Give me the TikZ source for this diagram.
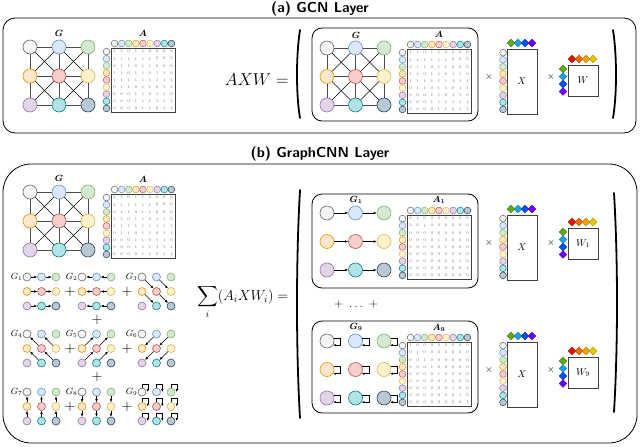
\documentclass[tikz,border=0pt]{standalone}
\usepackage{amsmath,bm}
\usetikzlibrary{shapes.geometric,arrows.meta,calc}
\definecolor{f1}{HTML}{F5F5F5}\definecolor{d1}{HTML}{666666}
\definecolor{f2}{HTML}{DAE8FC}\definecolor{d2}{HTML}{6C8EBF}
\definecolor{f3}{HTML}{D5E8D4}\definecolor{d3}{HTML}{82B366}
\definecolor{f4}{HTML}{FFE6CC}\definecolor{d4}{HTML}{D79B00}
\definecolor{f5}{HTML}{F8CECC}\definecolor{d5}{HTML}{B85450}
\definecolor{f6}{HTML}{FFF2CC}\definecolor{d6}{HTML}{D6B656}
\definecolor{f7}{HTML}{E1D5E7}\definecolor{d7}{HTML}{9673A6}
\definecolor{f8}{HTML}{B0E3E6}\definecolor{d8}{HTML}{0E8088}
\definecolor{f9}{HTML}{BAC8D3}\definecolor{d9}{HTML}{23445D}
\definecolor{x1}{HTML}{60A917}\definecolor{x2}{HTML}{1BA1E2}
\definecolor{x3}{HTML}{0050EF}\definecolor{x4}{HTML}{6A00FF}
\definecolor{w1}{HTML}{E51400}\definecolor{w2}{HTML}{FA6800}
\definecolor{w3}{HTML}{F0A30A}\definecolor{w4}{HTML}{E3C800}
\tikzset{
 gn/.style={circle, inner sep=0pt, minimum size=#1, line width=0.6pt},
 gridedge/.style={draw=black!70, line width=0.6pt},
 diagedge/.style={draw=black, line width=0.6pt},
 arr/.style={-{Latex[length=3pt,width=2.5pt]}, line width=0.5pt},
 dm/.style={diamond, inner sep=0pt, minimum size=8pt, draw=#1!70!black, fill=#1, line width=0.3pt},
 outerbox/.style={draw, line width=0.8pt},
 innerbox/.style={draw, line width=0.8pt, rounded corners=10pt},
 ent/.style={font=\fontsize{4}{4}\selectfont, text=black!55, inner sep=0pt},
 matbox/.style={draw=black!75, line width=0.8pt},
 lbl/.style={font=\small, inner sep=0pt},
 paren/.style={line width=1.8pt, line cap=round},
 ttl/.style={font=\sffamily\bfseries\Large, inner sep=0pt},
}
\newcommand\mkgraph[5]{%
 \foreach \i in {1,...,9}{%
  \pgfmathtruncatemacro\rr{(\i-1)/3}\pgfmathtruncatemacro\cc{mod(\i-1,3)}%
  \node[gn=#5, fill=f\i, draw=d\i] (#1\i) at ({#2+\cc*#4},{#3+\rr*#4}) {};}}
\newcommand\fulledges[1]{%
 \foreach \a/\b in {1/2,2/3,4/5,5/6,7/8,8/9,1/4,4/7,2/5,5/8,3/6,6/9} \draw[gridedge] (#1\a)--(#1\b);
 \foreach \a/\b in {1/5,2/4,2/6,3/5,4/8,5/7,5/9,6/8} \draw[diagedge] (#1\a)--(#1\b);}
\newcommand\mkmat[4]{%
 \draw[matbox] (#2,#3) rectangle ++(64,64);
 \foreach \j in {1,...,9}{\node[gn=6.8pt, fill=f\j, draw=d\j, line width=0.5pt] (#1t\j) at ({#2+3.6+7.1*(\j-1)},{#3-4.5}) {};}
 \foreach \j in {1,...,9}{\node[gn=6.8pt, fill=f\j, draw=d\j, line width=0.5pt] (#1l\j) at ({#2-4.5},{#3+3.6+7.1*(\j-1)}) {};}
 \foreach \rw [count=\i] in #4 {\foreach \v [count=\j] in \rw {\node[ent] (#1e\i-\j) at ({#2+3.6+7.1*(\j-1)},{#3+3.6+7.1*(\i-1)}) {\v};}}}
\newcommand\xmat[3]{%
 \draw[matbox] (#2,#3) rectangle ++(30,65);
 \node (#1lab) at ({#2+15},{#3+32}) {$X$};
 \foreach \j in {1,...,9}{\node[gn=6.8pt, fill=f\j, draw=d\j, line width=0.5pt] (#1l\j) at ({#2-4},{#3+3.6+7.1*(\j-1)}) {};}
 \foreach \k in {1,...,4}{\node[dm=x\k] (#1d\k) at ({#2+4+7*(\k-1)},{#3-6}) {};}}
\newcommand\wmat[4]{%
 \draw[matbox] (#2,#3) rectangle ++(30,31);
 \node (#1lab) at ({#2+15},{#3+15.5}) {$#4$};
 \foreach \k in {1,...,4}{\node[dm=w\k] (#1t\k) at ({#2+4+7*(\k-1)},{#3-6}) {};}
 \foreach \k in {1,...,4}{\node[dm=x\k] (#1l\k) at ({#2-5},{#3+4+7.5*(\k-1)}) {};}}
\def\Afull{{1,1,0,1,1,0,0,0,0},{1,1,1,1,1,1,0,0,0},{0,1,1,0,1,1,0,0,0},{1,1,0,1,1,0,1,1,0},{1,1,1,1,1,1,1,1,1},{0,1,1,0,1,1,0,1,1},{0,0,0,1,1,0,1,1,0},{0,0,0,1,1,1,1,1,1},{0,0,0,0,1,1,0,1,1}}
\def\Aone{{0,1,0,0,0,0,0,0,0},{0,0,1,0,0,0,0,0,0},{0,0,0,0,0,0,0,0,0},{0,0,0,0,1,0,0,0,0},{0,0,0,0,0,1,0,0,0},{0,0,0,0,0,0,0,0,0},{0,0,0,0,0,0,0,1,0},{0,0,0,0,0,0,0,0,1},{0,0,0,0,0,0,0,0,0}}
\def\Anine{{1,0,0,0,0,0,0,0,0},{0,1,0,0,0,0,0,0,0},{0,0,1,0,0,0,0,0,0},{0,0,0,1,0,0,0,0,0},{0,0,0,0,1,0,0,0,0},{0,0,0,0,0,1,0,0,0},{0,0,0,0,0,0,1,0,0},{0,0,0,0,0,0,0,1,0},{0,0,0,0,0,0,0,0,1}}
\begin{document}
\begin{tikzpicture}[x=1pt,y=-1pt]
\useasboundingbox (0,0) rectangle (640,447);
% ---------- (a)
\node[ttl] (ta) at (320,9) {(a) GCN Layer};
\draw[outerbox, rounded corners=12pt] (3,18) rectangle (636,133);
\mkgraph{ga}{30}{47}{29}{14pt}\fulledges{ga}
\node[lbl] (gal) at (59,33) {$\bm{G}$};
\mkmat{ma}{111}{48}{\Afull}
\node[lbl] (mal) at (143,33) {$\bm{A}$};
\node[anchor=east, font=\LARGE] (axw) at (292,80) {$AXW =$};
\draw[paren] (300,30) .. controls (296,55) and (296,95) .. (300,118);
\draw[innerbox] (312,28) rectangle (478,121);
\mkgraph{gb}{327}{48}{28.5}{14pt}\fulledges{gb}
\node[lbl] (gbl) at (356,35) {$\bm{G}$};
\mkmat{mb}{407}{49}{\Afull}
\node[lbl] (mbl) at (439,34) {$\bm{A}$};
\node (xa1) at (489,77) {$\times$};
\xmat{xa}{507}{49}
\node (xa2) at (551,77) {$\times$};
\wmat{wa}{568}{65}{W}
\draw[paren] (613,30) .. controls (617,55) and (617,95) .. (613,118);
% ---------- (b)
\node[ttl] (tb) at (320,154) {(b) GraphCNN Layer};
\draw[outerbox, rounded corners=28pt] (3,164) rectangle (637,443);
\mkgraph{gc}{30}{192}{29}{14pt}\fulledges{gc}
\node[lbl] (gcl) at (59,178) {$\bm{G}$};
\mkmat{mc}{111}{194}{\Afull}
\node[lbl] (mcl) at (143,179) {$\bm{A}$};
% small graphs
\foreach \k/\gx/\gy in {1/27/277,2/82/277,3/142/277,4/27/334,5/82/334,6/142/334,7/27/392,8/82/392,9/142/392}{
  \mkgraph{s\k n}{\gx}{\gy}{14.5}{8pt}
  \node[anchor=east, font=\small, inner sep=0.5pt] (s\k lab) at ({\gx-4},\gy) {$G_{\k}$};
}
\foreach \a/\b in {1/2,2/3,4/5,5/6,7/8,8/9} \draw[arr] (s1n\a)--(s1n\b);
\foreach \a/\b in {2/1,3/2,5/4,6/5,8/7,9/8} \draw[arr] (s2n\a)--(s2n\b);
\foreach \a/\b in {1/5,2/6,4/8,5/9} \draw[arr] (s3n\a)--(s3n\b);
\foreach \a/\b in {5/1,6/2,8/4,9/5} \draw[arr] (s4n\a)--(s4n\b);
\foreach \a/\b in {4/2,5/3,7/5,8/6} \draw[arr] (s5n\a)--(s5n\b);
\foreach \a/\b in {2/4,3/5,5/7,6/8} \draw[arr] (s6n\a)--(s6n\b);
\foreach \a/\b in {4/1,5/2,6/3,7/4,8/5,9/6} \draw[arr] (s7n\a)--(s7n\b);
\foreach \a/\b in {1/4,2/5,3/6,4/7,5/8,6/9} \draw[arr] (s8n\a)--(s8n\b);
\foreach \i in {1,...,9} \draw[arr] (s9n\i.north) -- ++(0,-3.5) -| ([xshift=1.5pt]s9n\i.east);
\foreach \px/\py [count=\c] in {70/292,127/292,70/349,127/349,70/407,127/407,97/320,97/377}
  \node[font=\Large] (pl\c) at (\px,\py) {$+$};
% sum
\node[anchor=east, font=\Large] (sumt) at (292,302) {$\displaystyle\sum_i (A_i X W_i) =$};
\draw[paren] (300,190) .. controls (296,260) and (296,350) .. (300,418);
\draw[paren] (614,193) .. controls (618,260) and (618,345) .. (614,412);
% G1 block
\draw[innerbox] (312,194) rectangle (478,288);
\mkgraph{gd}{327}{213}{28.5}{14pt}
\foreach \a/\b in {1/2,2/3,4/5,5/6,7/8,8/9} \draw[arr, line width=0.7pt] (gd\a)--(gd\b);
\node[lbl] (gdl) at (356,200) {$\bm{G_1}$};
\mkmat{md}{407}{215}{\Aone}
\node[lbl] (mdl) at (439,200) {$\bm{A_1}$};
\node (xd1) at (489,243) {$\times$};
\xmat{xd}{507}{215}
\node (xd2) at (551,243) {$\times$};
\wmat{wd}{568}{228}{W_1}
\node[font=\large] (dots) at (356,304) {$+\ \ldots\ +$};
% G9 block
\draw[innerbox] (312,321) rectangle (478,413);
\mkgraph{ge}{327}{341}{28.5}{14pt}
\foreach \i in {1,...,9} \draw[arr, line width=0.7pt] (ge\i.25) -- ++(7,0) |- (ge\i.-35);
\node[lbl] (gel) at (356,327) {$\bm{G_9}$};
\mkmat{me}{407}{342}{\Anine}
\node[lbl] (mel) at (439,328) {$\bm{A_9}$};
\node (xe1) at (489,370) {$\times$};
\xmat{xe}{507}{342}
\node (xe2) at (551,370) {$\times$};
\wmat{we}{568}{357}{W_9}
\end{tikzpicture}
\end{document}
